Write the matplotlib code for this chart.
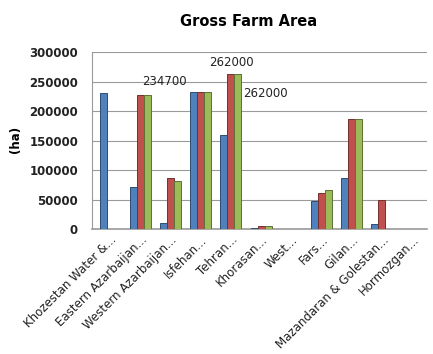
import matplotlib
matplotlib.use("Agg")
import matplotlib.pyplot as plt
import numpy as np
from matplotlib.colors import to_rgb

categories = ["Khozestan Water &...", "Eastern Azarbaijan...", "Western Azarbaijan...",
              "Isfehan...", "Tehran...", "Khorasan...", "West...", "Fars...", "Gilan...",
              "Mazandaran & Golestan...", "Hormozgan..."]
series1 = [230000, 71000, 10000, 232000, 160000, 1000, 500, 47000, 87000, 9000, 500]
series2 = [0, 228000, 86000, 232000, 262000, 5000, 500, 61000, 186000, 49000, 500]
series3 = [500, 228000, 82000, 232000, 262000, 5000, 500, 67000, 186000, 500, 500]
yticks = [0, 50000, 100000, 150000, 200000, 250000, 300000]
data_labels = [("234700", 1.84, 250000), ("262000", 4.07, 282000), ("262000", 5.19, 229000)]

colors = ["#4F81BD", "#C0504D", "#9BBB59"]

def darker(c, f=0.6):
    r, g, b = to_rgb(c)
    return (r * f, g * f, b * f)

fig = plt.figure(figsize=(4.33, 3.54), dpi=100)
ax = fig.add_axes([0.2125, 0.353, 0.774, 0.5])

x = np.arange(len(categories))
w = 0.23
for i, (vals, c) in enumerate(zip([series1, series2, series3], colors)):
    ax.bar(x + (i - 1) * w + 0.05, vals, width=w, color=c, edgecolor=darker(c), linewidth=0.7, zorder=3)

ax.set_xlim(-0.55, len(categories) - 0.45)
ax.set_ylim(0, 300000)
ax.set_yticks(yticks)
ax.set_yticklabels([str(v) for v in yticks], fontsize=8.5, fontweight="bold", color="#222222")
ax.tick_params(axis="y", length=0, pad=10)
ax.tick_params(axis="x", length=0, pad=3)
ax.set_xticks(x + 0.05)
ax.set_xticklabels(categories, rotation=45, ha="right", va="top", rotation_mode="anchor",
                   fontsize=8.5, color="#222222")
ax.yaxis.grid(True, color="#9a9a9a", linewidth=0.8, zorder=0)
for s in ["top", "right"]:
    ax.spines[s].set_visible(False)
ax.spines["left"].set_color("#9a9a9a")
ax.spines["bottom"].set_color("#9a9a9a")
ax.spines["bottom"].set_linewidth(1.2)

for txt, xp, yp in data_labels:
    ax.text(xp, yp, txt, fontsize=8.5, color="#222222", ha="center", va="center", zorder=5)

fig.text(0.573, 0.938, "Gross Farm Area", ha="center", va="center", fontsize=10.5, fontweight="bold")
fig.text(0.035, 0.605, "(ha)", rotation=90, ha="center", va="center", fontsize=8.5, fontweight="bold")

fig.savefig("out.png", dpi=100)
